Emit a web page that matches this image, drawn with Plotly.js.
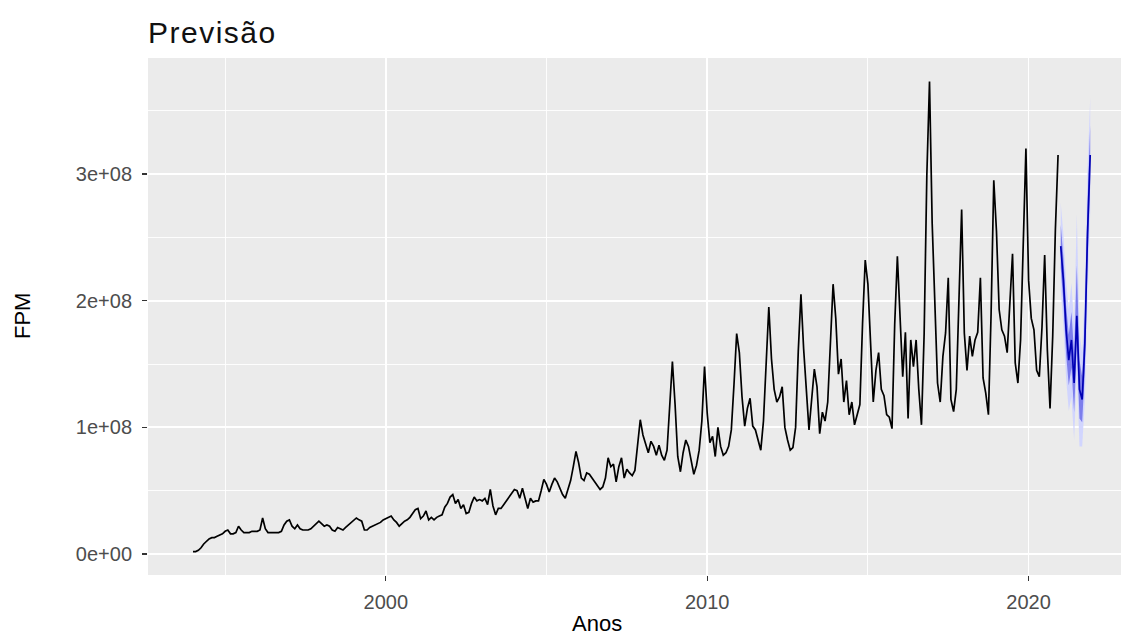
<!DOCTYPE html>
<html>
<head>
<meta charset="utf-8">
<script src="https://cdn.plot.ly/plotly-3.0.1.min.js"></script>
<style>
html,body{margin:0;padding:0;background:#fff;overflow:hidden;}
#chart{width:1121px;height:637px;}
#chart .gtitle{letter-spacing:1.5px;}
</style>
</head>
<body>
<div id="chart"></div>
<script>
// Monthly FPM series (R$ millions), Jan 1994 - Dec 2020
const obsStartYear = 1994;
const fpmObs = [
  // 1994
  2,2,3,5,8,10,12,13,13,14,15,16,
  // 1995
  18,19,16,16,17,22,19,17,17,17,18,18,
  // 1996
  18,19,28.5,20,17,17,17,17,17,18,23,26,
  // 1997
  27,22,20,23,20,19,19,19,20,22,24,26,
  // 1998
  24,22,23,22,19,18,21,20,19,21,23,25,
  // 1999
  27,28.5,27,26,19,19,21,22,23,24,25,27,
  // 2000
  28,29,30,27,25,22,24,26,27,29,32,35,
  // 2001
  36,28,30,34,27,29,27,29,30,31,37,40,
  // 2002
  45,47,40,43,36,39,32,33,40,45,42,43,
  // 2003
  42,44,39,51,38,31,36,36,39,42,45,47,
  // 2004
  51,50,44,52,43,36,44,41,42,42,50,59,
  // 2005
  55,49,55,60,57,52,47,44,52,58,69,81,
  // 2006
  72,60,58,64,63,60,57,55,51,53,60,76,
  // 2007
  69,71,57,69,76,60,67,64,62,66,89,106,
  // 2008
  94,86,80,89,85,78,86,78,74,82,122,152,
  // 2009
  118,77,65,80,90,85,74,63,70,82,105,148,
  // 2010
  111,88,93,77,100,85,78,80,85,98,134,174,
  // 2011
  159,124,101,115,123,101,98,90,82,105,152,195,
  // 2012
  154,130,120,124,132,100,90,82,84,100,160,205,
  // 2013
  162,130,98,122,146,132,95,112,105,120,172,213,
  // 2014
  186,142,154,120,137,110,120,102,110,118,182,232,
  // 2015
  213,164,120,145,159,130,125,110,108,99,181,235,
  // 2016
  186,140,175,107,169,148,169,130,102,174,299,373,
  // 2017
  261,193,135,120,156,174.5,218,122,112.5,130,200,272,
  // 2018
  174.5,145,172,156,169,175,218,139,127,110,190,295,
  // 2019
  255,193,177,172,159,200,237,151,135,169,248,320,
  // 2020
  216,186,177,145,140,179,236,161,115,172,256,315
];

// Forecast Jan 2021 - Dec 2021 (R$ millions)
const fcStartYear = 2021;
const fcMean = [243,216,177,153,169,135,188,130,122,166,253,315];
const fcLo80 = [226,198,158,133,147,112,166,107,104,144,228,292];
const fcHi80 = [260,234,196,173,191,158,228,153,140,188,278,338];
const fcLo95 = [209,180,139,113,124, 90,145, 85, 85,121,203,270];
const fcHi95 = [277,252,215,193,214,180,268,175,159,211,303,360];

const xTickVals = [2000, 2010, 2020];
const xTickText = ['2000', '2010', '2020'];
const yTickVals = [0, 1e8, 2e8, 3e8];
const yTickText = ['0e+00', '1e+08', '2e+08', '3e+08'];

const MILLION = 1e6;
const toUnits = a => a.map(v => v * MILLION);
const monthTimes = (start, n) => Array.from({length: n}, (_, i) => start + i / 12);

const tObs = monthTimes(obsStartYear, fpmObs.length);
const tFc = monthTimes(fcStartYear, fcMean.length);

const traces = [
  {x: tFc, y: toUnits(fcHi95), type: 'scatter', mode: 'lines', line: {width: 0}, hoverinfo: 'skip', showlegend: false},
  {x: tFc, y: toUnits(fcLo95), type: 'scatter', mode: 'lines', line: {width: 0}, fill: 'tonexty', fillcolor: 'rgba(208,212,255,0.95)', hoverinfo: 'skip', showlegend: false},
  {x: tFc, y: toUnits(fcHi80), type: 'scatter', mode: 'lines', line: {width: 0}, hoverinfo: 'skip', showlegend: false},
  {x: tFc, y: toUnits(fcLo80), type: 'scatter', mode: 'lines', line: {width: 0}, fill: 'tonexty', fillcolor: 'rgba(95,95,230,0.75)', hoverinfo: 'skip', showlegend: false},
  {x: tObs, y: toUnits(fpmObs), type: 'scatter', mode: 'lines', line: {color: '#000000', width: 1.7}, showlegend: false},
  {x: tFc, y: toUnits(fcMean), type: 'scatter', mode: 'lines', line: {color: '#0000B4', width: 1.7}, showlegend: false}
];

const FONT = 'Liberation Sans, Arial, sans-serif';

const layout = {
  width: 1121,
  height: 637,
  paper_bgcolor: '#ffffff',
  plot_bgcolor: '#EBEBEB',
  margin: {l: 148, r: 0, t: 58, b: 62, pad: 0},
  showlegend: false,
  title: {
    text: 'Previsão',
    font: {family: FONT, size: 30, color: '#111111'},
    xref: 'paper', x: 0, xanchor: 'left',
    yref: 'container', y: 1 - 32 / 637, yanchor: 'middle'
  },
  xaxis: {
    range: [1992.6, 2022.875],
    tickmode: 'array',
    tickvals: xTickVals,
    ticktext: xTickText,
    ticks: 'outside', ticklen: 5, tickwidth: 1.2, tickcolor: '#333333',
    ticklabelstandoff: 4,
    tickfont: {family: FONT, size: 20, color: '#4D4D4D'},
    showgrid: true, gridcolor: '#ffffff', gridwidth: 1.8,
    minor: {tickmode: 'linear', tick0: 1995, dtick: 5, showgrid: true, gridcolor: '#ffffff', gridwidth: 0.9, ticks: ''},
    zeroline: false, showline: false
  },
  yaxis: {
    range: [-0.165e8, 3.915e8],
    tickmode: 'array',
    tickvals: yTickVals,
    ticktext: yTickText,
    ticks: 'outside', ticklen: 5, tickwidth: 1.2, tickcolor: '#333333',
    ticklabelstandoff: 6,
    tickfont: {family: FONT, size: 20, color: '#4D4D4D'},
    showgrid: true, gridcolor: '#ffffff', gridwidth: 1.8,
    minor: {tickmode: 'linear', tick0: 0, dtick: 0.5e8, showgrid: true, gridcolor: '#ffffff', gridwidth: 0.9, ticks: ''},
    zeroline: false, showline: false
  },
  annotations: [
    {text: 'Anos', xref: 'paper', yref: 'paper', x: (597 - 148) / 973, y: -(627 - 579) / 517,
     xanchor: 'center', yanchor: 'middle', showarrow: false,
     font: {family: FONT, size: 22, color: '#000000'}},
    {text: 'FPM', xref: 'paper', yref: 'paper', x: -(148 - 22) / 973, y: (579 - 320) / 517,
     xanchor: 'center', yanchor: 'middle', showarrow: false, textangle: -90,
     font: {family: FONT, size: 22, color: '#000000'}}
  ]
};

Plotly.newPlot('chart', traces, layout, {staticPlot: true, displayModeBar: false});
</script>
</body>
</html>
